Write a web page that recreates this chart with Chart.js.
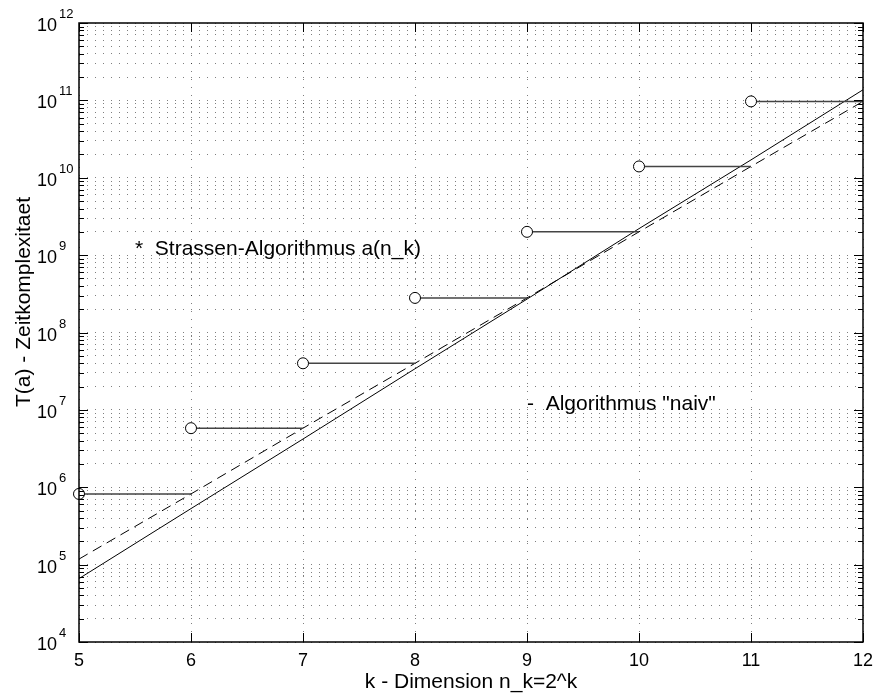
<!DOCTYPE html>
<html>
<head>
<meta charset="utf-8">
<script src="https://cdn.jsdelivr.net/npm/chart.js@4.4.0/dist/chart.umd.min.js"></script>
<style>
  html, body { margin: 0; padding: 0; background: #fff; }
  #wrap { width: 877px; height: 697px; }
</style>
</head>
<body>
<div id="wrap"><canvas id="cplx" width="877" height="697"></canvas></div>
<script>
// k = log2 of the matrix dimension
const kValues = [5, 6, 7, 8, 9, 10, 11, 12];
// solid line ("naiv", ~ n^3)
const naiveCost = [6.6e4, 5.3e5, 4.2e6, 3.4e7, 2.7e8, 2.2e9, 1.7e10, 1.37e11];
// dashed line (~ 7^k)
const strassenFit = [1.18e5, 8.2e5, 5.8e6, 4.0e7, 2.8e8, 2.0e9, 1.4e10, 9.7e10];
// circles a(n_k)
const strassenK = [5, 6, 7, 8, 9, 10, 11];
const strassenCost = [8.2e5, 5.8e6, 4.0e7, 2.8e8, 2.0e9, 1.4e10, 9.7e10];

const decadeExps = [4, 5, 6, 7, 8, 9, 10, 11, 12];
const xTickLabels = ['5', '6', '7', '8', '9', '10', '11', '12'];
const xTitle = 'k - Dimension n_k=2^k';
const yTitle = 'T(a) - Zeitkomplexitaet';
const noteStrassen = { text: '*  Strassen-Algorithmus a(n_k)', x: 5.5, y: 1e9 };
const noteNaive = { text: '-  Algorithmus "naiv"', x: 9, y: 1e7 };

const FONT = '"Liberation Sans", Arial, Helvetica, sans-serif';

// log ticks 1..9 per decade
const yTicks = [];
decadeExps.forEach((e, i) => {
  const last = i === decadeExps.length - 1;
  for (let m = 1; m <= (last ? 1 : 9); m++) {
    yTicks.push({ value: m * Math.pow(10, e), major: m === 1 });
  }
});

const stepData = [];
strassenK.forEach((k, i) => {
  stepData.push({ x: k, y: strassenCost[i] });
  stepData.push({ x: k + 1, y: strassenCost[i] });
  stepData.push({ x: k + 1, y: null });
});

const axisDecor = {
  id: 'axisDecor',
  afterDraw(chart) {
    const { ctx, chartArea: a, scales: { x, y } } = chart;
    ctx.save();
    ctx.strokeStyle = '#000';
    ctx.lineWidth = 1;
    ctx.beginPath();
    y.ticks.forEach(t => {
      const py = Math.round(y.getPixelForValue(t.value)) + 0.5;
      const len = t.major ? 9 : 5;
      ctx.moveTo(a.left, py); ctx.lineTo(a.left + len, py);
      ctx.moveTo(a.right, py); ctx.lineTo(a.right - len, py);
    });
    x.ticks.forEach(t => {
      const px = Math.round(x.getPixelForValue(t.value)) + 0.5;
      ctx.moveTo(px, a.bottom); ctx.lineTo(px, a.bottom - 9);
      ctx.moveTo(px, a.top); ctx.lineTo(px, a.top + 9);
    });
    ctx.stroke();
    ctx.lineWidth = 1.5;
    ctx.strokeRect(a.left, a.top, a.right - a.left, a.bottom - a.top);

    ctx.fillStyle = '#000';
    // y tick labels 10^e
    decadeExps.forEach(e => {
      const py = y.getPixelForValue(Math.pow(10, e));
      ctx.font = '18px ' + FONT;
      ctx.textAlign = 'right';
      ctx.textBaseline = 'alphabetic';
      ctx.fillText('10', a.left - 22, py + 8);
      ctx.font = '13px ' + FONT;
      ctx.textAlign = 'left';
      ctx.fillText(String(e), a.left - 20, py - 5);
    });
    // x tick labels
    ctx.font = '18px ' + FONT;
    ctx.textAlign = 'center';
    kValues.forEach((k, i) => {
      ctx.fillText(xTickLabels[i], x.getPixelForValue(k), a.bottom + 24);
    });
    // axis titles
    ctx.font = '21px ' + FONT;
    ctx.fillText(xTitle, (a.left + a.right) / 2, a.bottom + 46);
    ctx.save();
    ctx.translate(30, 302);
    ctx.rotate(-Math.PI / 2);
    ctx.fillText(yTitle, 0, 0);
    ctx.restore();
    // notes
    ctx.textAlign = 'left';
    [noteStrassen, noteNaive].forEach(n => {
      ctx.fillText(n.text, x.getPixelForValue(n.x), y.getPixelForValue(n.y));
    });
    ctx.restore();
  }
};

const gridStyle = {
  color: 'rgba(0,0,0,0.5)',
  lineWidth: 1,
  drawTicks: false
};

new Chart(document.getElementById('cplx'), {
  type: 'scatter',
  data: {
    datasets: [
      {
        label: 'a(n_k)',
        data: strassenK.map((k, i) => ({ x: k, y: strassenCost[i] })),
        showLine: false,
        pointRadius: 5.5,
        pointBorderColor: '#000',
        pointBackgroundColor: '#fff',
        pointBorderWidth: 1,
        clip: false
      },
      {
        label: 'steps',
        data: stepData,
        showLine: true,
        spanGaps: false,
        borderColor: '#444',
        borderWidth: 1.5,
        pointRadius: 0
      },
      {
        label: 'naiv',
        data: kValues.map((k, i) => ({ x: k, y: naiveCost[i] })),
        showLine: true,
        borderColor: '#000',
        borderWidth: 1,
        pointRadius: 0
      },
      {
        label: 'fit',
        data: kValues.map((k, i) => ({ x: k, y: strassenFit[i] })),
        showLine: true,
        borderColor: '#000',
        borderWidth: 1,
        borderDash: [10, 6],
        pointRadius: 0
      }
    ]
  },
  options: {
    responsive: false,
    animation: false,
    devicePixelRatio: 1,
    layout: { padding: { left: 0, top: 23, right: 14, bottom: 0 } },
    plugins: { legend: { display: false }, tooltip: { enabled: false } },
    scales: {
      x: {
        type: 'linear',
        min: 5,
        max: 12,
        ticks: { stepSize: 1, display: false },
        grid: gridStyle,
        border: { display: false, dash: [1, 7] },
        afterFit: s => { s.height = 55; }
      },
      y: {
        type: 'logarithmic',
        min: 1e4,
        max: 1e12,
        ticks: { display: false },
        afterBuildTicks: s => { s.ticks = yTicks.map(t => ({ value: t.value, major: t.major })); },
        grid: gridStyle,
        border: { display: false, dash: [1, 7] },
        afterFit: s => { s.width = 79; }
      }
    }
  },
  plugins: [axisDecor]
});
</script>
</body>
</html>
